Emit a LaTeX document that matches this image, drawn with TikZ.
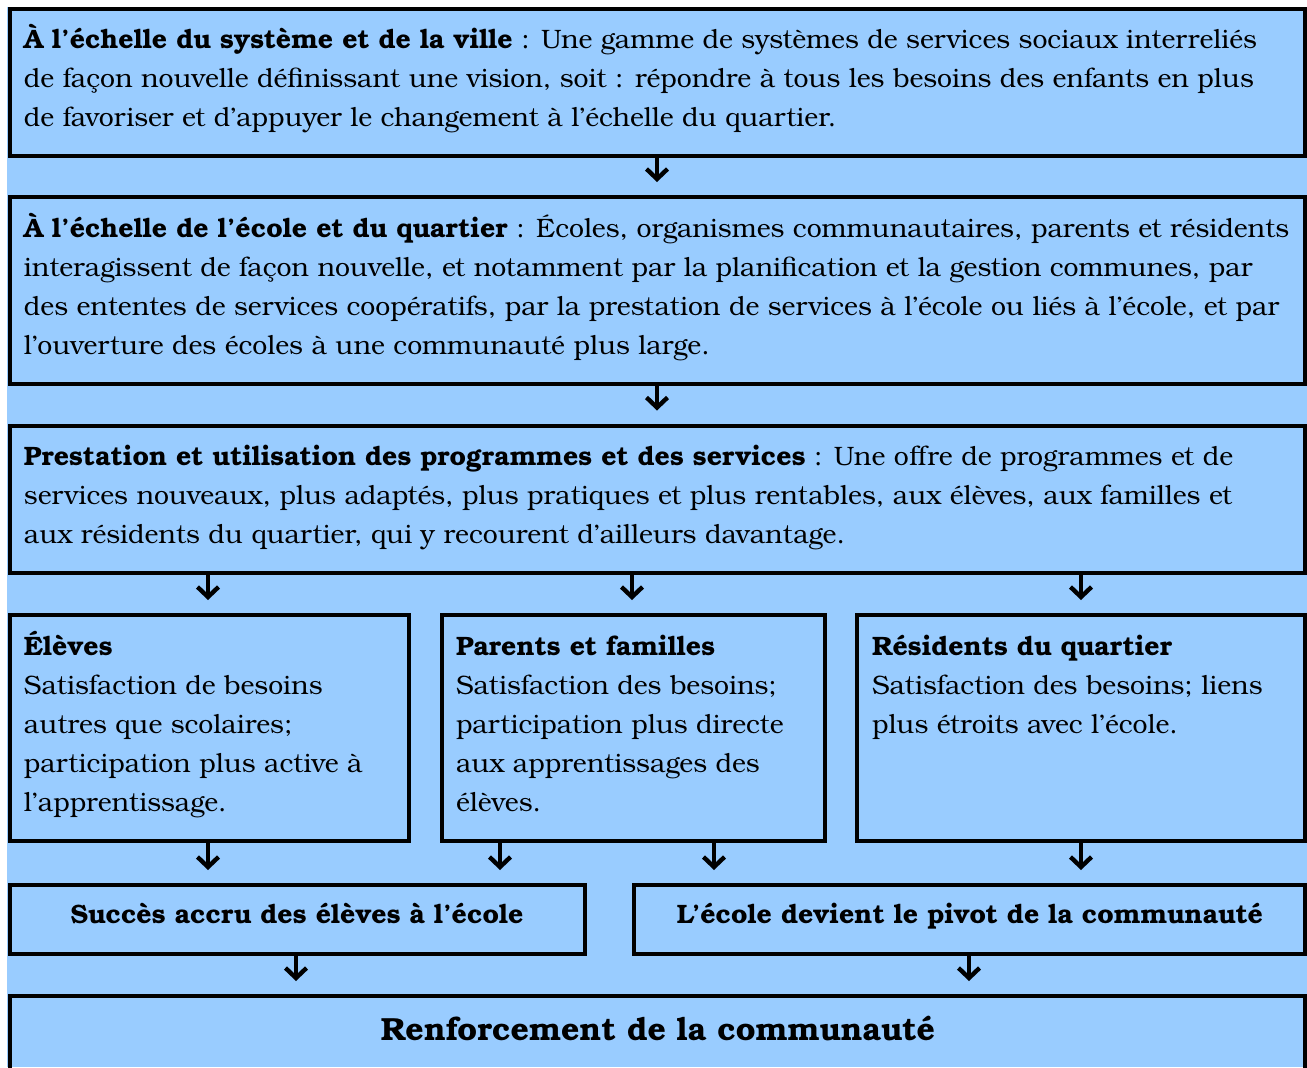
\documentclass[tikz,border=0pt]{standalone}
\usepackage{fontspec}
\setmainfont{texgyrebonum}[Extension=.otf, UprightFont=*-regular, BoldFont=*-bold]
\usetikzlibrary{arrows.meta}
\definecolor{bg}{RGB}{153,204,255}
\tikzset{
  box/.style={draw=black, line width=2pt, rectangle, inner sep=0pt, outer sep=0pt, anchor=north west},
  txt/.style={anchor=north west, inner sep=0pt, outer sep=0pt, align=left, font=\fontsize{13.3}{19.5}\selectfont},
  ctxt/.style={anchor=base, inner sep=0pt, font=\fontsize{13.3}{19.5}\selectfont\bfseries},
  arr/.style={line width=2.2pt, -{Straight Barb[length=5pt,width=10.5pt]}, shorten >=7.5pt}
}
\begin{document}
\begin{tikzpicture}[x=0.5pt, y=-0.5pt]
\useasboundingbox (0,0) rectangle (1307,1067);
\fill[bg] (7,7) rectangle (1307,1067);
% boxes
\node[box, minimum width=647.75pt, minimum height=73.5pt] (b1) at (9.5,8.7) {};
\node[box, minimum width=647.75pt, minimum height=93.25pt] (b2) at (9.5,197) {};
\node[box, minimum width=647.75pt, minimum height=73.5pt] (b3) at (9.5,425.5) {};
\node[box, minimum width=199.5pt, minimum height=113pt] (be) at (9.5,615) {};
\node[box, minimum width=191.5pt, minimum height=113pt] (bp) at (441.5,615) {};
\node[box, minimum width=224.25pt, minimum height=113pt] (br) at (856.5,615) {};
\node[box, minimum width=287.5pt, minimum height=34.25pt] (bs) at (9.5,885) {};
\node[box, minimum width=335.5pt, minimum height=34.25pt] (bc) at (634,885) {};
\node[box, minimum width=647.75pt, minimum height=45pt] (bf) at (9.5,996) {};
% texts
\node[txt] (t1) at (24,20.7) {\strut\textbf{À l’échelle du système et de la ville} : Une gamme de systèmes de services sociaux interreliés\\
de façon nouvelle définissant une vision, soit : répondre à tous les besoins des enfants en plus\\
de favoriser et d’appuyer le changement à l’échelle du quartier.};
\node[txt] (t2) at (24,209.7) {\strut\textbf{À l’échelle de l’école et du quartier} : Écoles, organismes communautaires, parents et résidents\\
interagissent de façon nouvelle, et notamment par la planification et la gestion communes, par\\
des ententes de services coopératifs, par la prestation de services à l’école ou liés à l’école, et par\\
l’ouverture des écoles à une communauté plus large.};
\node[txt] (t3) at (24,437.7) {\strut\textbf{Prestation et utilisation des programmes et des services} : Une offre de programmes et de\\
services nouveaux, plus adaptés, plus pratiques et plus rentables, aux élèves, aux familles et\\
aux résidents du quartier, qui y recourent d’ailleurs davantage.};
\node[txt] (te) at (24,627.7) {\strut\textbf{Élèves}\\
Satisfaction de besoins\\
autres que scolaires;\\
participation plus active à\\
l’apprentissage.};
\node[txt] (tp) at (456,627.7) {\strut\textbf{Parents et familles}\\
Satisfaction des besoins;\\
participation plus directe\\
aux apprentissages des\\
élèves.};
\node[txt] (tr) at (872,627.7) {\strut\textbf{Résidents du quartier}\\
Satisfaction des besoins; liens\\
plus étroits avec l’école.};
\node[ctxt] (ts) at (297,923) {Succès accru des élèves à l’école};
\node[ctxt] (tc) at (970,923) {L’école devient le pivot de la communauté};
\node[ctxt, font=\fontsize{16}{21}\selectfont\bfseries] (tf) at (658,1040) {Renforcement de la communauté};
% arrow x positions
\coordinate (xa) at (657,0);
\coordinate (xe) at (208,0);
\coordinate (xm) at (632,0);
\coordinate (xr) at (1081,0);
\coordinate (xp1) at (500,0);
\coordinate (xp2) at (714,0);
\coordinate (xs) at (296,0);
\coordinate (xc) at (969,0);
% arrows
\draw[arr] (b1.south -| xa) -- (b2.north -| xa);
\draw[arr] (b2.south -| xa) -- (b3.north -| xa);
\draw[arr] (b3.south -| xe) -- (be.north -| xe);
\draw[arr] (b3.south -| xm) -- (bp.north -| xm);
\draw[arr] (b3.south -| xr) -- (br.north -| xr);
\draw[arr] (be.south -| xe) -- (bs.north -| xe);
\draw[arr] (bp.south -| xp1) -- (bs.north -| xp1);
\draw[arr] (bp.south -| xp2) -- (bc.north -| xp2);
\draw[arr] (br.south -| xr) -- (bc.north -| xr);
\draw[arr] (bs.south -| xs) -- (bf.north -| xs);
\draw[arr] (bc.south -| xc) -- (bf.north -| xc);
\end{tikzpicture}
\end{document}
